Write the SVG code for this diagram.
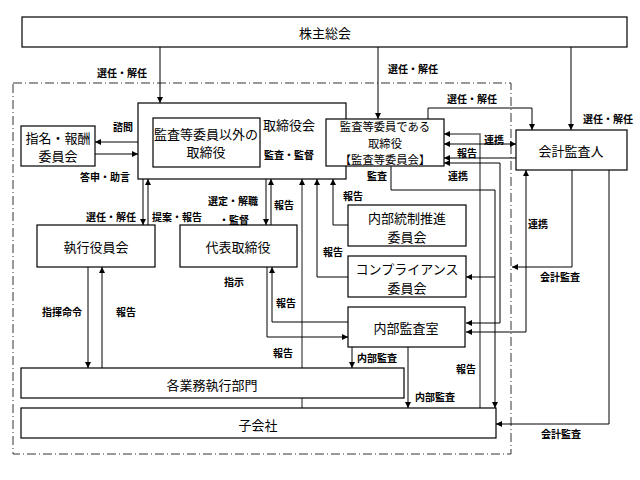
<svg xmlns="http://www.w3.org/2000/svg" width="640" height="480" viewBox="0 0 640 480">
<defs>
<marker id="ah" viewBox="0 0 8 8" refX="8" refY="4" markerWidth="6" markerHeight="6" markerUnits="userSpaceOnUse" orient="auto-start-reverse">
<path d="M0,0 L8,4 L0,8 z" fill="#000"/>
</marker>
<style>
.box{fill:#fff;stroke:#000;stroke-width:1.2}
.t{font-family:"Noto Sans CJK JP","Noto Sans CJK SC",sans-serif;font-size:13px;fill:#000;text-anchor:middle;dominant-baseline:central}
.s{font-size:11.3px}
.l{font-family:"Noto Sans CJK JP","Noto Sans CJK SC",sans-serif;font-size:10px;font-weight:bold;fill:#000;text-anchor:middle;dominant-baseline:central}
.c{fill:none;stroke:#000;stroke-width:1}
.g{fill:none;stroke:#666;stroke-width:1.5}
.a{marker-end:url(#ah)}
.b{marker-start:url(#ah);marker-end:url(#ah)}
</style>
</defs>
<rect x="0" y="0" width="640" height="480" fill="#fff"/>
<rect x="13" y="83" width="498" height="371" fill="none" stroke="#333" stroke-width="1" stroke-dasharray="9,3,1,3"/>

<g id="connectors">
<path class="c a" d="M160,47 V103"/>
<path class="c a" d="M378,47 V119"/>
<path class="c a" d="M571,47 V130"/>
<path class="c a" d="M428,119 V108 H532 V130"/>
<path class="c a" d="M138,142 H95"/>
<path class="c a" d="M95,154 H138"/>
<path class="c a" d="M326,142 H260"/>
<path class="c a" d="M143,179 V225"/>
<path class="c a" d="M148,225 V179"/>
<path class="c a" d="M266,179 V225"/>
<path class="c a" d="M271,225 V179"/>
<path class="g a" d="M302,408 V179"/>
<path class="c a" d="M348,277 H317 V179"/>
<path class="c a" d="M348,225 H333 V179"/>
<path class="c a" d="M88,267 V368"/>
<path class="c a" d="M102,368 V267"/>
<path class="c a" d="M348,322 H272 V267"/>
<path class="c a" d="M267,267 V337 H348"/>
<path class="c a" d="M352,347 V368"/>
<path class="c a" d="M408,347 V408"/>
<path class="g a" d="M480,408 V134 H444"/>
<path class="c b" d="M444,144 H516"/>
<path class="c a" d="M516,158 H444"/>
<path class="c a" d="M391,166 V190 H495 V408"/>
<path class="c a" d="M495,277 H466"/>
<path class="c b" d="M444,163 H500 V323 H466"/>
<path class="c b" d="M526,170 V332 H466"/>
<path class="c a" d="M572,170 V267 H512"/>
<path class="c a" d="M609,170 V424 H496"/>
</g>

<g id="kabunushi"><rect class="box" x="22" y="17" width="605" height="30"/><text class="t" x="325" y="32">株主総会</text></g>
<g id="torishimariyakukai"><rect class="box" x="138" y="103" width="208" height="76"/><text class="t" x="289" y="124">取締役会</text></g>
<g id="torishimariyaku"><rect class="box" x="153" y="118" width="107" height="49"/><text class="t" x="206" y="133">監査等委員以外の</text><text class="t" x="206" y="151">取締役</text></g>
<g id="kansatou"><rect class="box" x="326" y="119" width="118" height="47"/><text class="t s" x="385" y="126">監査等委員である</text><text class="t s" x="385" y="142.5">取締役</text><text class="t s" x="385" y="159">【監査等委員会】</text></g>
<g id="shimei"><rect class="box" x="21" y="126" width="74" height="40"/><text class="t" x="58" y="137">指名・報酬</text><text class="t" x="58" y="155">委員会</text></g>
<g id="kaikei"><rect class="box" x="516" y="130" width="111" height="40"/><text class="t" x="571" y="150">会計監査人</text></g>
<g id="shikkou"><rect class="box" x="37" y="225" width="118" height="42"/><text class="t" x="96" y="246">執行役員会</text></g>
<g id="daihyou"><rect class="box" x="180" y="225" width="117" height="42"/><text class="t" x="238" y="246">代表取締役</text></g>
<g id="naibutousei"><rect class="box" x="348" y="205" width="118" height="41"/><text class="t" x="407" y="217">内部統制推進</text><text class="t" x="407" y="236">委員会</text></g>
<g id="compliance"><rect class="box" x="348" y="256" width="118" height="41"/><text class="t" x="407" y="268">コンプライアンス</text><text class="t" x="407" y="287">委員会</text></g>
<g id="naibukansa"><rect class="box" x="348" y="307" width="117" height="40"/><text class="t" x="406" y="327">内部監査室</text></g>
<g id="gyoumu"><rect class="box" x="21" y="368" width="383" height="30"/><text class="t" x="212" y="384">各業務執行部門</text></g>
<g id="kogaisha"><rect class="box" x="21" y="408" width="475" height="30"/><text class="t" x="258" y="424">子会社</text></g>

<g id="labels">
<text class="l" x="122" y="72">選任・解任</text>
<text class="l" x="413" y="68">選任・解任</text>
<text class="l" x="472" y="98">選任・解任</text>
<text class="l" x="608" y="118">選任・解任</text>
<text class="l" x="123" y="126">諮問</text>
<text class="l" x="105" y="176">答申・助言</text>
<text class="l" x="289" y="154">監査・監督</text>
<text class="l" x="111" y="216">選任・解任</text>
<text class="l" x="177" y="216">提案・報告</text>
<text class="l" x="233" y="200">選定・解職</text>
<text class="l" x="234" y="219">・監督</text>
<text class="l" x="284" y="204">報告</text>
<text class="l" x="377" y="175">監査</text>
<text class="l" x="458" y="175">連携</text>
<text class="l" x="353" y="195">報告</text>
<text class="l" x="333" y="251">報告</text>
<text class="l" x="538" y="223">連携</text>
<text class="l" x="560" y="276">会計監査</text>
<text class="l" x="234" y="281">指示</text>
<text class="l" x="286" y="302">報告</text>
<text class="l" x="62" y="311">指揮命令</text>
<text class="l" x="126" y="311">報告</text>
<text class="l" x="283" y="352">報告</text>
<text class="l" x="377" y="357">内部監査</text>
<text class="l" x="435" y="396">内部監査</text>
<text class="l" x="466" y="368">報告</text>
<text class="l" x="561" y="433">会計監査</text>
<text class="l" x="494" y="139">連携</text>
<text class="l" x="467" y="152">報告</text>
</g>
</svg>
